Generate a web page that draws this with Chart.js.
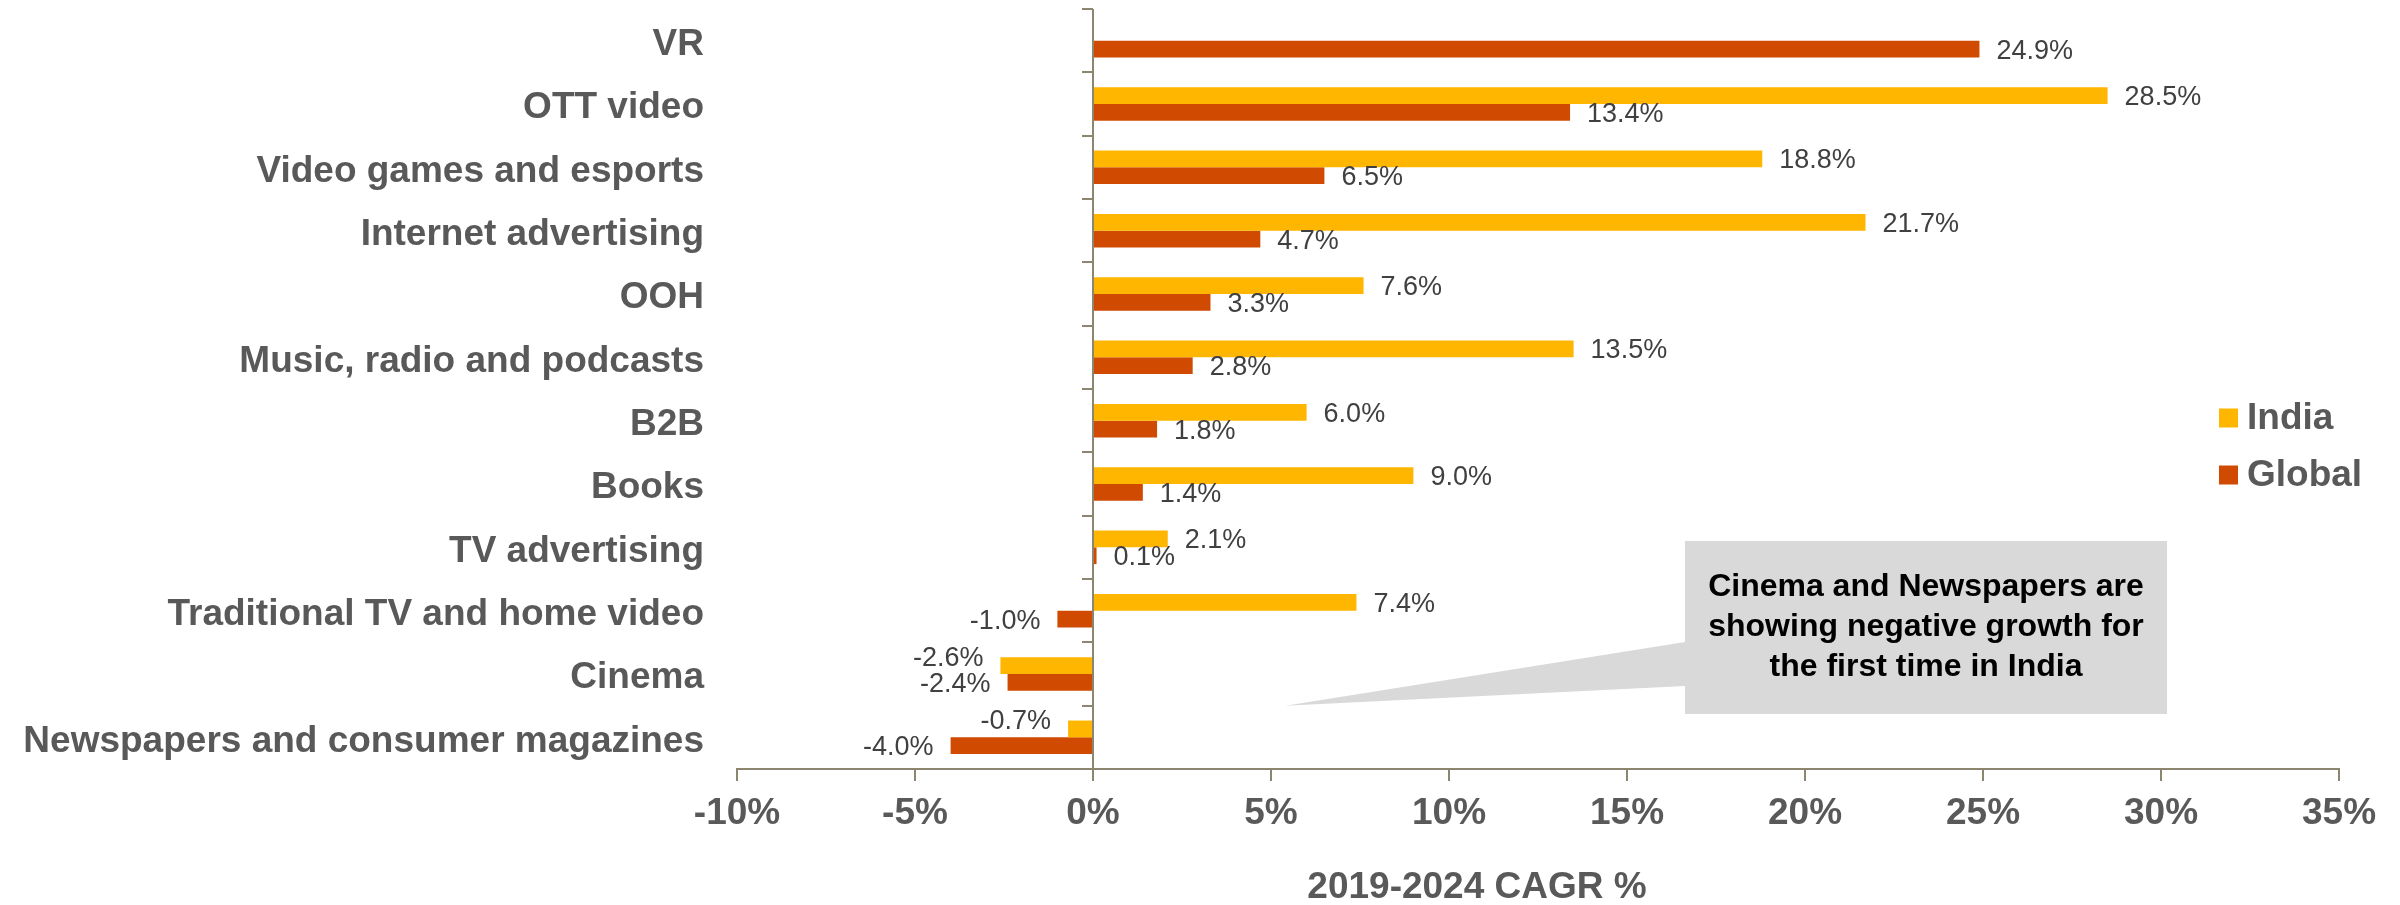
<!DOCTYPE html>
<html>
<head>
<meta charset="utf-8">
<title>2019-2024 CAGR %</title>
<script src="https://cdn.jsdelivr.net/npm/chart.js@4.4.1/dist/chart.umd.min.js"></script>
<style>
  html, body { margin: 0; padding: 0; background: #fff; }
  #wrap { width: 2400px; height: 905px; }
</style>
</head>
<body>
<div id="wrap"><canvas id="cagrChart" width="2400" height="905"></canvas></div>
<script>
// data
const categories = [
  'VR', 'OTT video', 'Video games and esports', 'Internet advertising', 'OOH',
  'Music, radio and podcasts', 'B2B', 'Books', 'TV advertising',
  'Traditional TV and home video', 'Cinema', 'Newspapers and consumer magazines'
]
const india  = [null, 28.5, 18.8, 21.7, 7.6, 13.5, 6.0, 9.0, 2.1, 7.4, -2.6, -0.7]
const global = [24.9, 13.4, 6.5, 4.7, 3.3, 2.8, 1.8, 1.4, 0.1, -1.0, -2.4, -4.0]
const xTicks = [-10, -5, 0, 5, 10, 15, 20, 25, 30, 35]
const seriesNames = ['India', 'Global']
const axisTitle = '2019-2024 CAGR %'
const calloutLines = ['Cinema and Newspapers are', 'showing negative growth for', 'the first time in India']

const indiaColor = '#FFB600'
const globalColor = '#D04A02'
const axisColor = '#8c8670'
const labelGrey = '#595959'
const FONT = '"Liberation Sans", Arial, sans-serif'

// axis line at 0 with category ticks
const zeroAxis = {
  id: 'zeroAxis',
  afterDatasetsDraw(chart) {
    const {ctx, chartArea, scales: {x, y}} = chart
    const x0 = x.getPixelForValue(0)
    const band = y.getPixelForValue(1) - y.getPixelForValue(0)
    ctx.save()
    ctx.strokeStyle = axisColor
    ctx.lineWidth = 2
    ctx.beginPath()
    ctx.moveTo(x0, chartArea.top)
    ctx.lineTo(x0, chartArea.bottom)
    for (let i = 0; i <= categories.length; i++) {
      const yy = Math.round(y.getPixelForValue(0) - band / 2 + i * band)
      ctx.moveTo(x0 - 11, yy)
      ctx.lineTo(x0, yy)
    }
    ctx.stroke()
    ctx.restore()
  }
}

// value labels next to bars
const valueLabels = {
  id: 'valueLabels',
  afterDatasetsDraw(chart) {
    const {ctx} = chart
    ctx.save()
    ctx.font = '27px ' + FONT
    ctx.fillStyle = '#404040'
    ctx.textBaseline = 'middle'
    chart.data.datasets.forEach((ds, di) => {
      const meta = chart.getDatasetMeta(di)
      meta.data.forEach((bar, i) => {
        const v = ds.data[i]
        if (v === null || v === undefined) return
        const txt = v.toFixed(1) + '%'
        let yy = bar.y + 2
        if (v < 0) {
          if (di === 0) yy -= 9
          ctx.textAlign = 'right'
          ctx.fillText(txt, bar.x - 17, yy)
        } else {
          ctx.textAlign = 'left'
          ctx.fillText(txt, bar.x + 17, yy)
        }
      })
    })
    ctx.restore()
  }
}

// legend inside the plot, right side
const sideLegend = {
  id: 'sideLegend',
  afterDraw(chart) {
    const {ctx} = chart
    const colors = [indiaColor, globalColor]
    ctx.save()
    ctx.font = 'bold 37px ' + FONT
    ctx.textBaseline = 'middle'
    ctx.textAlign = 'left'
    seriesNames.forEach((name, i) => {
      const cy = 418 + i * 57
      ctx.fillStyle = colors[i]
      ctx.fillRect(2219, cy - 9.5, 19, 19)
      ctx.fillStyle = labelGrey
      ctx.fillText(name, 2247, cy + 1)
    })
    ctx.restore()
  }
}

// grey callout box + pointer, and the x axis title
const callout = {
  id: 'callout',
  afterDraw(chart) {
    const {ctx, scales: {x, y}} = chart
    const band = y.getPixelForValue(1) - y.getPixelForValue(0)
    const tipX = x.getPixelForValue(5.4)
    const tipY = y.getPixelForValue(11) - band / 2
    const bx = 1685, by = 541, bw = 482, bh = 173
    ctx.save()
    ctx.fillStyle = '#d9d9d9'
    ctx.beginPath()
    ctx.moveTo(bx, by)
    ctx.lineTo(bx + bw, by)
    ctx.lineTo(bx + bw, by + bh)
    ctx.lineTo(bx, by + bh)
    ctx.lineTo(bx, 686)
    ctx.lineTo(tipX, tipY)
    ctx.lineTo(bx, 642)
    ctx.closePath()
    ctx.fill()
    ctx.fillStyle = '#000'
    ctx.font = 'bold 32px ' + FONT
    ctx.textAlign = 'center'
    ctx.textBaseline = 'middle'
    calloutLines.forEach((l, i) => ctx.fillText(l, bx + bw / 2, 587 + i * 40))

    ctx.fillStyle = labelGrey
    ctx.font = 'bold 37px ' + FONT
    ctx.fillText(axisTitle, 1477, 888)
    ctx.restore()
  }
}

const ctx = document.getElementById('cagrChart').getContext('2d')
const chart = new Chart(ctx, {
  type: 'bar',
  data: {
    labels: categories,
    datasets: [
      { label: seriesNames[0], data: india, backgroundColor: indiaColor, categoryPercentage: 0.53, barPercentage: 1 },
      { label: seriesNames[1], data: global, backgroundColor: globalColor, categoryPercentage: 0.53, barPercentage: 1 }
    ]
  },
  options: {
    indexAxis: 'y',
    responsive: false,
    animation: false,
    devicePixelRatio: 1,
    layout: { padding: { top: 9, right: 61, left: 0, bottom: 0 } },
    plugins: {
      legend: { display: false },
      tooltip: { enabled: false }
    },
    scales: {
      x: {
        type: 'linear',
        min: xTicks[0],
        max: xTicks[xTicks.length - 1],
        afterBuildTicks: s => { s.ticks = xTicks.map(v => ({value: v})) },
        ticks: {
          callback: v => v + '%',
          font: { family: FONT, size: 37, weight: 'bold' },
          color: labelGrey,
          padding: 11
        },
        grid: { drawOnChartArea: false, drawTicks: true, tickLength: 12, color: axisColor, lineWidth: 2 },
        border: { display: true, color: axisColor, width: 2 },
        afterFit: s => { s.height = 136; s.paddingLeft = 0; s.paddingRight = 0 }
      },
      y: {
        type: 'category',
        ticks: {
          font: { family: FONT, size: 37, weight: 'bold' },
          color: labelGrey,
          padding: 33,
          labelOffset: 4
        },
        grid: { display: false, drawTicks: false },
        border: { display: false },
        afterFit: s => { s.width = 737; s.paddingTop = 0; s.paddingBottom = 0 }
      }
    }
  },
  plugins: [zeroAxis, valueLabels, sideLegend, callout]
})
</script>
</body>
</html>
